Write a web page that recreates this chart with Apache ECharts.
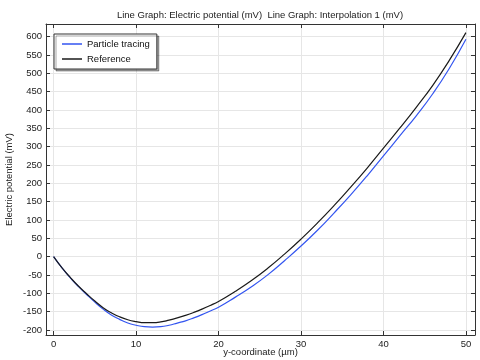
<!DOCTYPE html>
<html>
<head>
<meta charset="utf-8">
<script src="https://cdn.jsdelivr.net/npm/echarts@6/dist/echarts.min.js"></script>
<style>html,body{margin:0;padding:0;background:#fff}#c{width:480px;height:360px}</style>
</head>
<body>
<div id="c"></div>
<script>
const xValues = [0,1,2,3,4,5,6,7,8,9,10,11,12,13,14,15,16,17,18,19,20,22,24,26,28,30,32,34,36,38,40,42,44,46,48,50];
const particleTracing = [0,-30,-57,-81,-103,-124,-143,-159,-171,-181,-187,-191,-192,-191,-187,-181,-175,-167,-158,-148,-138,-111,-82,-49,-11,29,72,119,168,220,275,330,385,445,514,593];
const reference = [0,-30,-56,-80,-101,-121,-139,-153,-164,-172,-177,-180,-180,-178,-173,-167,-160,-152,-143,-133,-122,-95,-65,-31,7,48,92,139,189,241,296,351,408,468,536,611];
const seriesNames = ['Particle tracing', 'Reference'];
const titleText = 'Line Graph: Electric potential (mV)  Line Graph: Interpolation 1 (mV)';
const xName = 'y-coordinate (µm)';
const yName = 'Electric potential (mV)';

const FONT = 'Liberation Sans';
const FS = 9.5;
const frameColor = '#333';
const gridColor = '#e6e6e6';

function pairs(xs, ys){ return xs.map((x,i)=>[x, ys[i]]); }

const xRange = {min: -0.92, max: 51.1, splitNumber: 5};
const yRange = {min: -213.6, max: 634.6, splitNumber: 17};

const baseAxis = {
  axisLine: {show: true, onZero: false, lineStyle: {color: frameColor, width: 1}},
  axisTick: {show: true, inside: true, length: 4, lineStyle: {color: frameColor}},
  splitLine: {show: false},
  axisLabel: {show: false}
};

const chart = echarts.init(document.getElementById('c'), null, {renderer: 'canvas'});
chart.setOption({
  animation: false,
  backgroundColor: '#fff',
  title: {
    text: titleText, left: 260, top: 10, textAlign: 'center', padding: 0,
    textStyle: {fontFamily: FONT, fontSize: FS, fontWeight: 'normal', color: '#222'}
  },
  grid: {left: 46, right: 5, top: 24, bottom: 25, containLabel: false, outerBoundsMode: 'none'},
  legend: {
    data: seriesNames,
    orient: 'vertical', left: 54, top: 34,
    padding: [5, 7, 5, 8], itemWidth: 20, itemHeight: 1.5, itemGap: 5,
    icon: 'rect',
    backgroundColor: '#fff', borderColor: '#333', borderWidth: 1, borderRadius: 0,
    shadowColor: 'rgba(0,0,0,0.35)', shadowOffsetX: 2, shadowOffsetY: 2, shadowBlur: 0,
    textStyle: {fontFamily: FONT, fontSize: FS, color: '#111'}
  },
  xAxis: [
    Object.assign({}, baseAxis, {
      type: 'value', position: 'bottom', min: xRange.min, max: xRange.max, splitNumber: xRange.splitNumber,
      name: xName, nameLocation: 'middle', nameGap: 12, nameMoveOverlap: false,
      nameTextStyle: {fontFamily: FONT, fontSize: FS, color: '#222', verticalAlign: 'top'},
      axisLabel: {show: true, showMinLabel: false, showMaxLabel: false, margin: 4,
        fontFamily: FONT, fontSize: FS, color: '#222'},
      splitLine: {show: true, lineStyle: {color: gridColor, width: 1}}
    }),
    Object.assign({}, baseAxis, {
      type: 'value', position: 'top', min: xRange.min, max: xRange.max, splitNumber: xRange.splitNumber
    })
  ],
  yAxis: [
    Object.assign({}, baseAxis, {
      type: 'value', position: 'left', min: yRange.min, max: yRange.max, splitNumber: yRange.splitNumber,
      name: yName, nameLocation: 'middle', nameGap: 32, nameRotate: 90, nameMoveOverlap: false,
      nameTextStyle: {fontFamily: FONT, fontSize: FS, color: '#222'},
      axisLabel: {show: true, showMinLabel: false, showMaxLabel: false, margin: 4,
        fontFamily: FONT, fontSize: FS, color: '#222'},
      splitLine: {show: true, lineStyle: {color: gridColor, width: 1}}
    }),
    Object.assign({}, baseAxis, {
      type: 'value', position: 'right', min: yRange.min, max: yRange.max, splitNumber: yRange.splitNumber
    })
  ],
  series: [
    {name: seriesNames[0], type: 'line', data: pairs(xValues, particleTracing), smooth: 0.5,
     symbol: 'none', lineStyle: {color: '#3355f0', width: 1.2}, itemStyle: {color: '#3355f0'}, z: 3},
    {name: seriesNames[1], type: 'line', data: pairs(xValues, reference), smooth: 0.5,
     symbol: 'none', lineStyle: {color: '#1a1a1a', width: 1.2}, itemStyle: {color: '#1a1a1a'}, z: 4}
  ]
});
</script>
</body>
</html>
